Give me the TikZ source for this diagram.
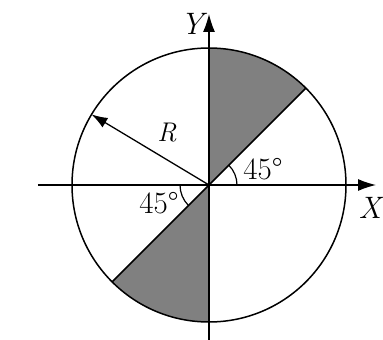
\documentclass[tikz,border=0pt]{standalone}
\usepackage{fontspec}
\usetikzlibrary{arrows.meta}
\begin{document}
\begin{tikzpicture}[x=1pt,y=1pt,
  lbl/.style={inner sep=0pt,font=\fontsize{31}{35}\selectfont},
  shade/.style={fill=black!50},
  edge/.style={line width=1.5pt},
  axis/.style={line width=1.2pt,-{Latex[length=18pt,width=12pt]}}]
\useasboundingbox (-209,-155) rectangle (174,185);
\coordinate (O) at (0,0);
\coordinate (A45) at (45:137);
\coordinate (A225) at (225:137);
\coordinate (Rt) at (149:137);
\coordinate (Xs) at (-171,0);
\coordinate (Xe) at (167,0);
\coordinate (Ys) at (0,-155);
\coordinate (Ye) at (0,171);
% shaded sectors
\fill[shade] (O) -- (A45) arc[start angle=45,end angle=90,radius=137] -- cycle;
\fill[shade] (O) -- (A225) arc[start angle=225,end angle=270,radius=137] -- cycle;
% circle
\draw[edge] (O) circle[radius=137];
% sector edges
\draw[edge] (O) -- (A45);
\draw[edge] (O) -- (A225);
% axes
\draw[axis] (Xs) -- (Xe);
\draw[axis] (Ys) -- (Ye);
% radius arrow
\draw[line width=1.3pt,-{Latex[length=16pt,width=11pt]}] (O) -- (Rt);
% angle arcs
\draw[line width=1.2pt] (28,0) arc[start angle=0,end angle=45,radius=28];
\draw[line width=1.2pt] (180:29) arc[start angle=180,end angle=225,radius=29];
% labels
\node[lbl] (ly) at (-17,161) {\itshape Y};
\node[lbl] (lx) at (161,-23) {\itshape X};
\node[lbl,font=\fontsize{27}{31}\selectfont] (lr) at (-42,52) {\itshape R};
\node[lbl] (la1) at (54,16) {45°};
\node[lbl] (la2) at (-50,-18) {45°};
\end{tikzpicture}
\end{document}
